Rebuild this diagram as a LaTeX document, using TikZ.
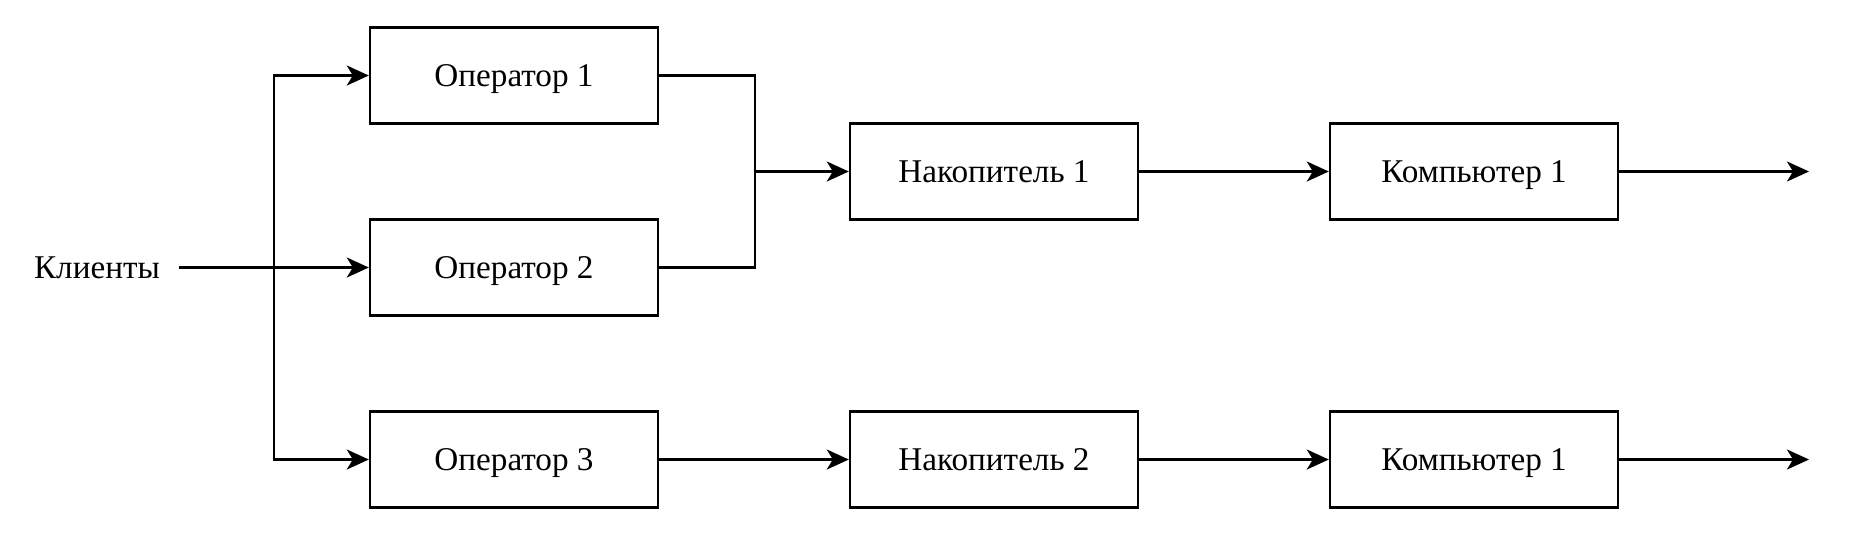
\documentclass[tikz,border=0pt]{standalone}
\usepackage{fontspec}
\setmainfont{Liberation Serif}
\usetikzlibrary{arrows.meta}
\begin{document}
\begin{tikzpicture}[x=0.5pt,y=-0.5pt,
  txt/.style={font=\fontsize{16.6}{19}\selectfont,text height=11pt,text depth=0pt},
  box/.style={txt,draw,line width=1.2pt,minimum width=144pt,minimum height=48pt,inner sep=0pt},
  lbl/.style={txt,inner sep=0pt,minimum width=82pt},
  conn/.style={line width=1.2pt},
  arr/.style={conn,-{Stealth[length=11pt,width=10pt,inset=3pt]}}]
\useasboundingbox (0,0) rectangle (1854,554);
\node[lbl] (kl) at (97,267.5) {Клиенты};
\node[box] (op1) at (514,75.5) {Оператор 1};
\node[box] (op2) at (514,267.5) {Оператор 2};
\node[box] (op3) at (514,459.5) {Оператор 3};
\node[box] (nk1) at (994,171.5) {Накопитель 1};
\node[box] (nk2) at (994,459.5) {Накопитель 2};
\node[box] (cp1) at (1474,171.5) {Компьютер 1};
\node[box] (cp2) at (1474,459.5) {Компьютер 1};
\coordinate (br) at (274,267.5);
\coordinate (jn) at (755,171.5);
\coordinate (out1) at (1809,171.5);
\coordinate (out2) at (1809,459.5);
\draw[arr] (kl.east) -- (op2.west);
\draw[arr] (br) |- (op1.west);
\draw[arr] (br) |- (op3.west);
\draw[conn] (op1.east) -| (jn);
\draw[conn] (op2.east) -| (jn);
\draw[arr] (jn) -- (nk1.west);
\draw[arr] (nk1.east) -- (cp1.west);
\draw[arr] (cp1.east) -- (out1);
\draw[arr] (op3.east) -- (nk2.west);
\draw[arr] (nk2.east) -- (cp2.west);
\draw[arr] (cp2.east) -- (out2);
\end{tikzpicture}
\end{document}
